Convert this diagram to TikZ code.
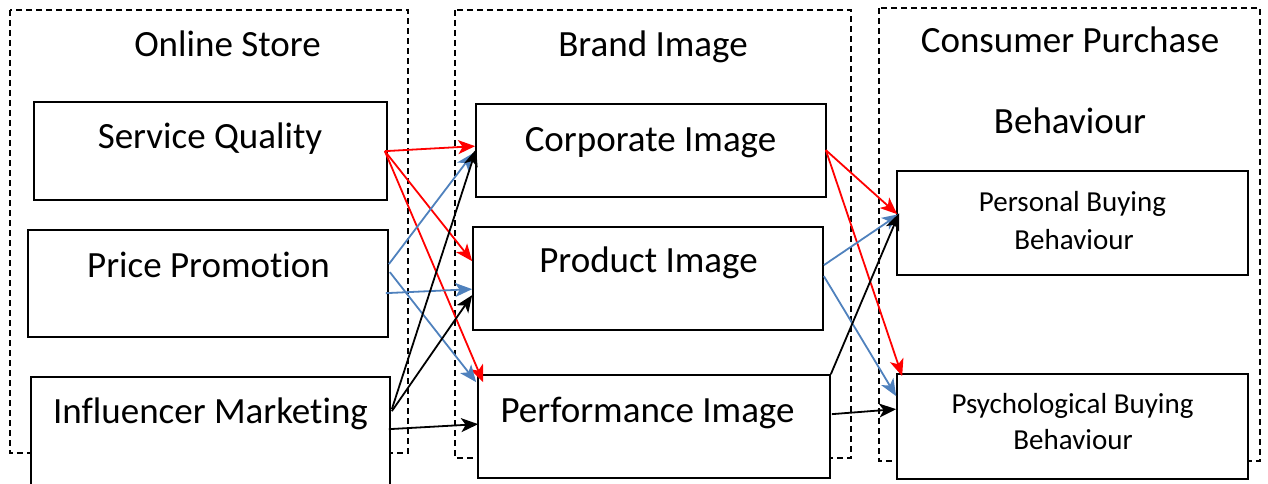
\documentclass[tikz,border=0pt]{standalone}
\usepackage{fontspec}
\setmainfont{Carlito}[Ligatures=NoCommon]
\usetikzlibrary{arrows.meta,calc}
\definecolor{offblue}{HTML}{4F81BD}
\tikzset{
  container/.style={draw, dashed, dash pattern=on 6pt off 4pt, line width=1.3pt},
  box/.style={draw, line width=1.7pt, fill=white, inner sep=0pt},
  big/.style={font=\fontsize{37}{44}\selectfont, anchor=base, inner sep=0pt},
  small/.style={font=\fontsize{29}{35}\selectfont, anchor=base, inner sep=0pt},
  conn/.style={line width=1.8pt, -{Stealth[length=17pt,width=14pt,inset=4.5pt]}},
  redc/.style={conn, draw=red, fill=red},
  bluec/.style={conn, draw=offblue, fill=offblue},
  blackc/.style={conn, draw=black, fill=black},
}
\newcommand{\boxnode}[5]{\node[box, minimum width={#4-#2}, minimum height={#5-#3}] (#1) at ({(#2+#4)/2},{(#3+#5)/2}) {};}
\begin{document}
\begin{tikzpicture}[x=1pt,y=-1pt]
\useasboundingbox (0,0) rectangle (1268,484);
% containers
\draw[container] (10,10) rectangle (408,453);
\draw[container] (455,10) rectangle (851,458);
\draw[container] (879,8) rectangle (1260,461);
% boxes
\boxnode{sq}{34}{102}{387}{200}
\boxnode{pp}{28}{230}{388}{337}
\boxnode{im}{31}{377}{390}{488}
\boxnode{ci}{476}{104}{826}{197}
\boxnode{pi}{473}{227}{823}{330}
\boxnode{fi}{478}{375}{830}{478}
\boxnode{pb}{897}{171}{1248}{275}
\boxnode{ps}{897}{374}{1248}{479}
% titles
\node[big] (tos) at (227.5,57) {Online Store};
\node[big] (tbi) at (653,57) {Brand Image};
\node[big] (tcp1) at (1070,53) {Consumer Purchase};
\node[big] (tcp2) at (1070,133) {Behaviour};
% labels
\node[big] (lsq) at (210,148) {Service Quality};
\node[big] (lpp) at (208.5,277) {Price Promotion};
\node[big] (lim) at (210.5,423) {Influencer Marketing};
\node[big] (lci) at (650.5,151) {Corporate Image};
\node[big] (lpi) at (648.5,272) {Product Image};
\node[big] (lfi) at (647.5,422) {Performance Image};
\node[small] (lpb1) at (1072.5,211) {Personal Buying};
\node[small] (lpb2) at (1074,249) {Behaviour};
\node[small] (lps1) at (1072.5,413) {Psychological Buying};
\node[small] (lps2) at (1073,449) {Behaviour};
% connectors: Online Store -> Brand Image
\draw[redc] ($(sq.north east)+(-3,50)$) -- ($(ci.north west)+(0,43)$);
\draw[redc] ($(sq.north east)+(-3,50)$) -- ($(pi.north west)+(0,35)$);
\draw[redc] ($(sq.north east)+(-3,50)$) -- ($(fi.north west)+(6,8)$);
\draw[bluec] ($(pp.north east)+(0,35)$) -- ($(ci.north west)+(-2,50)$);
\draw[bluec] ($(pp.north east)+(-3,64)$) -- ($(pi.north west)+(0,63)$);
\draw[bluec] ($(pp.north east)+(1,43)$) -- ($(fi.north west)+(-1,8)$);
\draw[blackc] ($(im.north east)+(1,33)$) -- ($(ci.north west)+(1,46)$);
\draw[blackc] ($(im.north east)+(1,35)$) -- ($(pi.north west)+(0,69)$);
\draw[blackc] ($(im.north east)+(-2,53)$) -- ($(fi.north west)+(1,50)$);
% connectors: Brand Image -> Consumer Purchase Behaviour
\draw[redc] ($(ci.north east)+(-1,47)$) -- ($(pb.north west)+(1,44)$);
\draw[redc] ($(ci.north east)+(-1,47)$) -- ($(ps.north west)+(6,3)$);
\draw[bluec] ($(pi.north east)+(0,39)$) -- ($(pb.north west)+(3,44)$);
\draw[bluec] ($(pi.north east)+(0,50)$) -- ($(ps.north west)+(0,23)$);
\draw[blackc] (fi.north east) -- ($(pb.north west)+(3,43)$);
\draw[blackc] ($(fi.north east)+(1,40)$) -- ($(ps.north west)+(0,36)$);
\end{tikzpicture}
\end{document}
